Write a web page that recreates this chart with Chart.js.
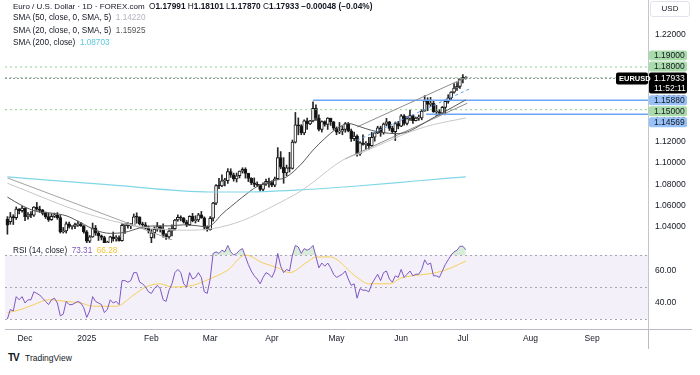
<!DOCTYPE html>
<html>
<head>
<meta charset="utf-8">
<script src="https://cdn.jsdelivr.net/npm/chart.js@4.4.1/dist/chart.umd.min.js"></script>
<style>
  body { margin: 0; background: #fff; font-family: "Liberation Sans", Arial, sans-serif; color: #131722; }
  #wrap { position: relative; width: 700px; height: 375px; overflow: hidden; }
  canvas { position: absolute; left: 0; }
  .txt { position: absolute; white-space: nowrap; font-size: 8px; line-height: 10px; }
</style>
</head>
<body>
<div id="wrap">
  <canvas id="priceChart" width="700" height="243" style="top:0"></canvas>
  <canvas id="rsiChart" width="700" height="106" style="top:243px"></canvas>

  <div class="txt" style="left:13px;top:1px">Euro / U.S. Dollar · 1D · FOREX.com&nbsp;&nbsp;<span style="font-size:8.3px">O<b>1.17991</b>&nbsp;H<b>1.18101</b>&nbsp;L<b>1.17870</b>&nbsp;C<b>1.17933</b>&nbsp;<b>−0.00048 (−0.04%)</b></span></div>
  <div class="txt" style="left:13px;top:12.5px;font-size:8.2px">SMA (50, close, 0, SMA, 5)&nbsp; <span style="color:#b2b5be">1.14220</span></div>
  <div class="txt" style="left:13px;top:25.5px;font-size:8.2px">SMA (20, close, 0, SMA, 5)&nbsp; <span style="color:#555">1.15925</span></div>
  <div class="txt" style="left:13px;top:37.5px;font-size:8.2px">SMA (200, close)&nbsp; <span style="color:#5cc8de">1.08703</span></div>
  <div class="txt" style="left:13px;top:246px;font-size:8.2px">RSI (14, close)&nbsp; <span style="color:#7e57c2">73.31</span>&nbsp; <span style="color:#f0c330">66.28</span></div>

  <div class="txt" style="left:650px;top:1px;width:38px;height:14px;line-height:14px;text-align:center;border:1px solid #e0e3eb;border-radius:3px;font-size:8px">USD</div>
  <div class="txt" style="left:8px;top:353px;font-size:10px;font-weight:900;letter-spacing:-1px">TV</div>
  <div class="txt" style="left:25px;top:353px;font-size:8.5px">TradingView</div>
</div>
<script>
// bar 0 = 22 Nov 2024, trading days only (no 25 Dec / 1 Jan)
const monthIdx = [6, 27, 49, 69, 90, 112, 134, 155, 178, 199];
const monthLabels = ['Dec', '2025', 'Feb', 'Mar', 'Apr', 'May', 'Jun', 'Jul', 'Aug', 'Sep'];
const priceTicks = [1.04, 1.06, 1.08, 1.10, 1.12, 1.14, 1.16, 1.18, 1.20, 1.22];
const rsiTicks = [40, 60];

const opens = [
  1.0471,1.0450,1.0495,1.0487,1.0568,1.0553,
  1.0577,1.0497,1.0512,1.0510,1.0587, 1.0568,1.0555,1.0527,1.0497,1.0469,
  1.0500,1.0513,1.0488,1.0353,1.0362, 1.0430,1.0406,1.0406,1.0422, 1.0427,1.0409,
  1.0354,1.0266, 1.0307,1.0390,1.0342,1.0317,1.0301, 1.0244,1.0244,1.0307,1.0291,1.0301,
  1.0272,1.0416,1.0431,1.0410,1.0413, 1.0495,1.0493,1.0429,1.0421,1.0389,
  1.0300,1.0346,1.0379,1.0403,1.0381, 1.0329,1.0306,1.0362,1.0384,1.0465,
  1.0490,1.0484,1.0446,1.0422,1.0500, 1.0459,1.0465,1.0514,1.0486,1.0399,
  1.0374,1.0482,1.0624,1.0789,1.0784, 1.0833,1.0833,1.0919,1.0888,1.0851,
  1.0880,1.0923,1.0940,1.0902,1.0855, 1.0815,1.0800,1.0791,1.0753,1.0801, 1.0828,
  1.0817,1.0791,1.0852,1.1051, 1.0960,1.0906,1.0955,1.0948,1.1195,
  1.1358,1.1348,1.1283,1.1396,1.1367, 1.1395,1.1512,1.1422,1.1315,1.1389, 1.1362,1.1420,1.1385,
  1.1327,1.1290, 1.1298,1.1315,1.1369,1.1301,1.1227, 1.1253,1.1086,1.1190,1.1173,1.1185,
  1.1163,1.1241,1.1283,1.1330,1.1282, 1.1364,1.1386,1.1324,1.1293,1.1369,
  1.1346,1.1443,1.1370,1.1417,1.1444, 1.1397,1.1420,1.1423,1.1487,1.1584,
  1.1549,1.1561,1.1478,1.1479,1.1464, 1.1522,1.1578,1.1610,1.1664,1.1703,
  1.1718,1.1787,1.17991
];
const highs = [
  1.0497,1.0536,1.0515,1.0588,1.0572,1.0596,
  1.0580,1.0536,1.0545,1.0590,1.0630, 1.0595,1.0565,1.0540,1.0530,1.0525,
  1.0530,1.0535,1.0508,1.0395,1.0447, 1.0445,1.0412,1.0436,1.0456, 1.0444,1.0414,
  1.0367,1.0320, 1.0437,1.0414,1.0357,1.0325,1.0313, 1.0267,1.0313,1.0353,1.0320,1.0318,
  1.0431,1.0432,1.0441,1.0434,1.0522, 1.0533,1.0496,1.0445,1.0442,1.0410,
  1.0375,1.0400,1.0442,1.0410,1.0430, 1.0338,1.0385,1.0420,1.0472,1.0513,
  1.0505,1.0489,1.0463,1.0505,1.0528, 1.0505,1.0528,1.0546,1.0495,1.0410,
  1.0498,1.0630,1.0797,1.0855,1.0888, 1.0857,1.0947,1.0946,1.0905,1.0906,
  1.0925,1.0955,1.0955,1.0904,1.0862, 1.0860,1.0823,1.0800,1.0813,1.0848, 1.0858,
  1.0833,1.0868,1.1144,1.1107, 1.1050,1.0980,1.1100,1.1215,1.1474,
  1.1423,1.1360,1.1405,1.1420,1.1400, 1.1573,1.1545,1.1452,1.1395,1.1395, 1.1425,1.1420,1.1390,
  1.1338,1.1380, 1.1345,1.1380,1.1380,1.1318,1.1290, 1.1265,1.1200,1.1265,1.1200,1.1240,
  1.1287,1.1287,1.1345,1.1345,1.1375, 1.1419,1.1390,1.1345,1.1384,1.1390,
  1.1454,1.1454,1.1435,1.1495,1.1450, 1.1430,1.1450,1.1500,1.1631,1.1612,
  1.1615,1.1580,1.1540,1.1500,1.1530, 1.1590,1.1640,1.1670,1.1745,1.1755,
  1.1790,1.1829,1.18101
];
const lows = [
  1.0332,1.0425,1.0423,1.0470,1.0522,1.0538,
  1.0460,1.0472,1.0488,1.0498,1.0556, 1.0538,1.0512,1.0480,1.0452,1.0462,
  1.0488,1.0472,1.0343,1.0343,1.0343, 1.0389,1.0380,1.0384,1.0404, 1.0405,1.0342,
  1.0226,1.0234, 1.0303,1.0322,1.0273,1.0278,1.0214, 1.0178,1.0240,1.0267,1.0267,1.0267,
  1.0266,1.0340,1.0388,1.0384,1.0410, 1.0435,1.0418,1.0386,1.0381,1.0343,
  1.0141,1.0296,1.0360,1.0352,1.0305, 1.0284,1.0289,1.0316,1.0370,1.0455,
  1.0457,1.0436,1.0403,1.0415,1.0448, 1.0437,1.0450,1.0480,1.0373,1.0360,
  1.0370,1.0455,1.0610,1.0760,1.0777, 1.0785,1.0808,1.0865,1.0830,1.0821,
  1.0860,1.0905,1.0858,1.0825,1.0797, 1.0778,1.0780,1.0733,1.0735,1.0790, 1.0774,
  1.0778,1.0777,1.0847,1.0945, 1.0810,1.0880,1.0915,1.0943,1.1187,
  1.1264,1.1265,1.1265,1.1315,1.1360, 1.1385,1.1400,1.1300,1.1290,1.1345, 1.1315,1.1352,1.1309,
  1.1265,1.1275, 1.1265,1.1288,1.1292,1.1202,1.1210, 1.1065,1.1070,1.1168,1.1130,1.1130,
  1.1155,1.1204,1.1275,1.1250,1.1270, 1.1350,1.1305,1.1280,1.1210,1.1320,
  1.1340,1.1355,1.1357,1.1400,1.1370, 1.1395,1.1400,1.1405,1.1485,1.1490,
  1.1530,1.1475,1.1445,1.1448,1.1455, 1.1452,1.1560,1.1590,1.1655,1.1680,
  1.1700,1.1750,1.17870
];
const closes = [
  1.0417,1.0495,1.0487,1.0568,1.0553,1.0577,
  1.0497,1.0512,1.0510,1.0587,1.0568, 1.0555,1.0527,1.0497,1.0469,1.0500,
  1.0513,1.0488,1.0353,1.0362,1.0430, 1.0406,1.0406,1.0422,1.0427, 1.0409,1.0354,
  1.0266,1.0307, 1.0390,1.0342,1.0317,1.0301,1.0244, 1.0244,1.0307,1.0291,1.0301,1.0272,
  1.0416,1.0431,1.0410,1.0413,1.0495, 1.0493,1.0429,1.0421,1.0389,1.0362,
  1.0346,1.0379,1.0403,1.0381,1.0329, 1.0306,1.0362,1.0384,1.0465,1.0490,
  1.0484,1.0446,1.0422,1.0500,1.0459, 1.0465,1.0514,1.0486,1.0399,1.0374,
  1.0482,1.0624,1.0789,1.0784,1.0833, 1.0833,1.0919,1.0888,1.0851,1.0880,
  1.0923,1.0940,1.0902,1.0855,1.0815, 1.0800,1.0791,1.0753,1.0801,1.0828, 1.0817,
  1.0791,1.0852,1.1051,1.0960, 1.0906,1.0955,1.0948,1.1195,1.1358,
  1.1348,1.1283,1.1396,1.1367,1.1395, 1.1512,1.1422,1.1315,1.1389,1.1362, 1.1420,1.1385,1.1327,
  1.1290,1.1298, 1.1315,1.1369,1.1301,1.1227,1.1253, 1.1086,1.1190,1.1173,1.1185,1.1163,
  1.1241,1.1283,1.1330,1.1282,1.1364, 1.1386,1.1324,1.1293,1.1369,1.1346,
  1.1443,1.1370,1.1417,1.1444,1.1397, 1.1420,1.1423,1.1487,1.1584,1.1549,
  1.1561,1.1478,1.1479,1.1464,1.1522, 1.1578,1.1610,1.1664,1.1703,1.1718,
  1.1787,1.1803,1.17933
];

// moving averages as [bar, price]
const sma20 = [[0,1.068],[5,1.060],[10,1.0545],[15,1.053],[20,1.0505],[25,1.044],[30,1.037],[35,1.034],
  [40,1.035],[45,1.039],[50,1.041],[55,1.041],[60,1.042],[65,1.041],[68,1.040],[70,1.043],[73,1.052],
  [76,1.059],[80,1.068],[85,1.078],[90,1.083],[95,1.087],[100,1.099],[104,1.112],[108,1.123],
  [112,1.132],[116,1.137],[120,1.134],[124,1.1305],[128,1.1285],[132,1.1275],[136,1.129],
  [140,1.1345],[144,1.141],[148,1.147],[152,1.153],[156,1.15925]];
const sma50 = [[0,1.081],[10,1.070],[20,1.059],[30,1.050],[40,1.043],[50,1.0385],[60,1.037],[70,1.0385],
  [80,1.046],[90,1.059],[100,1.074],[105,1.084],[110,1.095],[115,1.104],[120,1.109],[125,1.115],
  [130,1.121],[135,1.127],[140,1.132],[145,1.136],[150,1.139],[156,1.1422]];
const sma200 = [[0,1.0869],[35,1.0794],[69,1.0728],[79,1.0728],[99,1.0747],[119,1.0784],[139,1.0831],[156,1.08703]];

// drawings
const trendLeft = [[0,1.0860],[56,1.0280]];
const channelUpper = [[119,1.1338],[156.5,1.1808]];
const channelLower = [[114.9,1.1038],[156.5,1.1560]];
const channelMid = [[119,1.1213],[157.5,1.1697]];
const blueRays = [[104,1.1588],[142.5,1.14569]];
const greenLevels = [1.19, 1.18, 1.15];
const lastPrice = 1.17933;
const countdown = '11:52:11';

const rsi = [
  30,36,35,44,42,44,40,42,42,47, 46,45,43,41,39,42,43,40,32,33,
  41,39,39,40,41,40,37,31,35,44, 41,40,39,34,36,42,40,41,39,54,
  54,53,54,59,59,53,52,50,47,46, 49,51,49,42,41,48,52,59,61,59,
  52,50,59,55,56,59,56,47,46,55, 71,72,71,73,72,76,72,70,71,73,
  74,69,64,60,57,55,52,56,59,58, 56,60,71,63,59,61,60,70,76,75,
  71,74,73,74,76,69,62,65,63,65, 62,58,56,57,58,60,55,51,52,43,
  49,48,48,47,52,55,58,54,59,60, 55,53,57,56,61,56,58,60,57,58,
  58,61,67,64,65,57,57,56,60,64, 67,70,72,73,75.5,75.5,73.31
];
const rsiMa = [[0,34],[4,35.6],[9,39],[14,42],[20,41],[25,40],[29,38],[37,38],[43,45],[47,50],[52,52],
  [56,50],[63,51],[68,54.4],[75,60.6],[81,70],[87,65],[92,62],[96,59],[102,65.6],[105,68.8],[110,68.8],
  [113,66],[115,62.5],[119,56],[123,52],[130,52],[134,55.6],[140,57.5],[146,59],[151,62],[156,66.28]];

const xMin = -0.82, xMax = 218;
const family = '"Liberation Sans", Arial, sans-serif';
// tiny lineHeight keeps Chart.js from padding the plot for half a label
const axisFont = {size: 8.5, family: family, lineHeight: 0.01};

function pts(arr) { return arr.map(p => ({x: p[0], y: p[1]})); }
function line(data, color, width, dash, smooth) {
  return {type: 'line', data: pts(data), borderColor: color, borderWidth: width, borderDash: dash || [],
    pointRadius: 0, fill: false, order: 1, cubicInterpolationMode: smooth ? 'monotone' : 'default'};
}
function rightAxis(min, max, tickVals, digits) {
  return {
    type: 'linear', position: 'right', min: min, max: max,
    grid: {display: true, drawOnChartArea: false, drawTicks: true, tickLength: 7, tickColor: 'rgba(0,0,0,0)'},
    border: {color: '#c3c6cd'},
    ticks: {padding: 0, color: '#131722', font: axisFont, callback: v => v.toFixed(digits)},
    afterBuildTicks: s => { s.ticks = tickVals.map(v => ({value: v})); },
    afterFit: s => { s.width = 52; }
  };
}

let datasets = [
  {type: 'bar', data: lows.map((l, i) => ({x: i, y: [l, highs[i]]})), backgroundColor: '#262626',
    barThickness: 1, grouped: false, order: 6},
  {type: 'bar', data: opens.map((o, i) => ({x: i, y: [o, closes[i]]})),
    backgroundColor: c => closes[c.dataIndex] >= opens[c.dataIndex] ? '#ffffff' : '#111111',
    borderColor: '#1a1a1a', borderWidth: 1, borderSkipped: false, barThickness: 3, minBarLength: 1,
    grouped: false, order: 5},
  line(sma200, '#80d6e8', 1.2, null, true),
  line(sma50, '#c8c8c8', 1, null, true),
  line(sma20, '#595959', 1, null, true),
  line(trendLeft, '#a3a3a3', 1),
  line(channelUpper, '#8d8d8d', 1),
  line(channelLower, '#8d8d8d', 1),
  line(channelMid, '#5b9cf6', 1, [3, 3]),
  line([[xMin, lastPrice], [xMax, lastPrice]], '#8a8d96', 1, [2, 2])
];
greenLevels.forEach(v => datasets.push(line([[xMin, v], [xMax, v]], 'rgba(102,187,106,0.7)', 1, [2, 3])));
blueRays.forEach(r => datasets.push(line([[r[0], r[1]], [xMax, r[1]]], '#6aa5f6', 1.5)));

const badgePlugin = {
  id: 'badges',
  afterDraw(chart) {
    const ctx = chart.ctx, y = chart.scales.y, right = chart.chartArea.right;
    const h = 10, gap = 1, w = 38;
    const py = y.getPixelForValue(lastPrice);
    const boxTop = py - 6, boxBot = py + 15;
    const items = greenLevels.map(v => ({v: v, bg: '#a9dcaa'}))
      .concat(blueRays.map(r => ({v: r[1], bg: '#98c1f7'})));
    const above = items.filter(b => b.v > lastPrice).sort((a, b) => a.v - b.v);
    const below = items.filter(b => b.v < lastPrice).sort((a, b) => b.v - a.v);
    let limit = boxTop;
    above.forEach(b => {
      b.cy = Math.min(y.getPixelForValue(b.v), limit - gap - h / 2);
      limit = b.cy - h / 2;
    });
    limit = boxBot;
    below.forEach(b => {
      b.cy = Math.max(y.getPixelForValue(b.v), limit + gap + h / 2);
      limit = b.cy + h / 2;
    });
    ctx.save();
    ctx.font = '8.5px ' + family;
    ctx.textBaseline = 'middle';
    above.concat(below).forEach(b => {
      ctx.fillStyle = b.bg;
      ctx.beginPath();
      ctx.roundRect(right + 1, b.cy - h / 2, w, h, 2);
      ctx.fill();
      ctx.fillStyle = '#131722';
      ctx.fillText(b.v.toFixed(5), right + 6, b.cy + 0.5);
    });
    // last price box
    ctx.fillStyle = '#000';
    ctx.beginPath();
    ctx.roundRect(right + 1, boxTop, w, boxBot - boxTop, 2);
    ctx.fill();
    ctx.fillStyle = '#fff';
    ctx.fillText(lastPrice.toFixed(5), right + 6, py + 0.5);
    ctx.fillText(countdown, right + 6, py + 10);
    // symbol label
    ctx.fillStyle = '#000';
    ctx.beginPath();
    ctx.roundRect(right - 32, py - 6, 32, 12, 2);
    ctx.fill();
    ctx.fillStyle = '#fff';
    ctx.font = 'bold 7.5px ' + family;
    ctx.fillText('EURUSD', right - 29, py + 0.5);
    ctx.restore();
  }
};

new Chart(document.getElementById('priceChart'), {
  type: 'bar',
  data: {datasets: datasets},
  options: {
    responsive: false, animation: false, events: [],
    layout: {autoPadding: false, padding: {left: 5, right: 0, top: 0, bottom: 0}},
    plugins: {legend: {display: false}, tooltip: {enabled: false}},
    scales: {
      x: {type: 'linear', min: xMin, max: xMax, display: false, offset: false, grid: {display: false, offset: false}},
      y: rightAxis(1.025, 1.2528, priceTicks, 5)
    }
  },
  plugins: [badgePlugin]
});

const rsiPlugin = {
  id: 'rsiBand',
  beforeDatasetsDraw(chart) {
    const ctx = chart.ctx, a = chart.chartArea, y = chart.scales.y;
    const y70 = y.getPixelForValue(70), y30 = y.getPixelForValue(30);
    ctx.save();
    ctx.fillStyle = 'rgba(126,87,194,0.09)';
    ctx.fillRect(a.left, y70, a.right - a.left, y30 - y70);
    ctx.strokeStyle = '#a5a8b0';
    ctx.lineWidth = 1;
    ctx.setLineDash([2, 3]);
    [70, 50, 30].forEach(v => {
      const yy = Math.round(y.getPixelForValue(v)) + 0.5;
      ctx.beginPath(); ctx.moveTo(a.left, yy); ctx.lineTo(a.right, yy); ctx.stroke();
    });
    ctx.restore();
  },
  afterDraw(chart) {
    const ctx = chart.ctx, a = chart.chartArea;
    ctx.save();
    ctx.strokeStyle = '#b9bcc4';
    ctx.lineWidth = 1;
    ctx.beginPath();
    ctx.moveTo(a.left, a.bottom + 0.5); ctx.lineTo(692, a.bottom + 0.5);
    ctx.moveTo(a.right + 0.5, a.bottom); ctx.lineTo(a.right + 0.5, chart.height);
    ctx.stroke();
    ctx.restore();
  }
};

new Chart(document.getElementById('rsiChart'), {
  type: 'line',
  data: {
    datasets: [
      {data: rsi.map((v, i) => ({x: i, y: v})), borderColor: '#7e57c2', borderWidth: 1, pointRadius: 0,
        fill: {target: {value: 70}, above: 'rgba(76,175,80,0.22)', below: 'rgba(0,0,0,0)'}},
      {data: pts(rsiMa), borderColor: '#f6cf56', borderWidth: 1, pointRadius: 0, fill: false,
        cubicInterpolationMode: 'monotone'}
    ]
  },
  options: {
    responsive: false, animation: false, events: [],
    layout: {autoPadding: false, padding: {left: 5, right: 0, top: 0, bottom: 0}},
    plugins: {legend: {display: false}, tooltip: {enabled: false}},
    scales: {
      x: {
        type: 'linear', min: xMin, max: xMax, position: 'bottom',
        grid: {display: false, drawTicks: false},
        border: {display: false},
        ticks: {padding: 5, autoSkip: false, maxRotation: 0, color: '#131722', font: {size: 8.5, family: family},
          callback: v => monthLabels[monthIdx.indexOf(v)] || ''},
        afterBuildTicks: s => { s.ticks = monthIdx.map(v => ({value: v})); },
        afterFit: s => { s.height = 20; }
      },
      y: rightAxis(23.75, 77.5, rsiTicks, 2)
    }
  },
  plugins: [rsiPlugin]
});
</script>
</body>
</html>
